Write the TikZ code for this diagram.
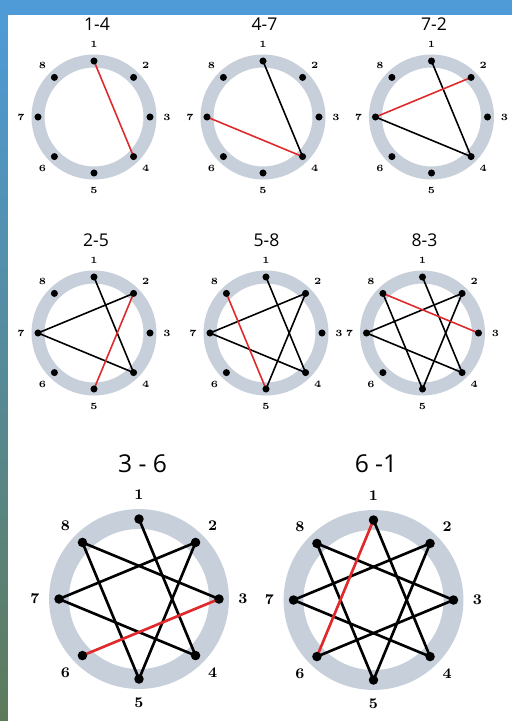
\documentclass[tikz,border=0pt]{standalone}
\usepackage{fontspec}
\newfontfamily\titlefont{Open Sans}
\usetikzlibrary{calc}
\definecolor{skyblue}{HTML}{4E9BD7}
\definecolor{palmteal}{HTML}{3E6470}
\definecolor{palmgreen}{HTML}{5E7A5A}
\definecolor{ringgrey}{HTML}{C6CFDA}
\definecolor{chordred}{HTML}{E0292B}
\tikzset{
    every picture/.style={line cap=round,line join=round},
    ring/.style={draw=ringgrey},
    peg/.style={circle,fill=black,inner sep=0pt},
    chord/.style={draw=black,line width=0.9pt},
    bigchord/.style={draw=black,line width=1.5pt},
    newchord/.style={draw=chordred},
    numlabel/.style={inner sep=0pt},
    steptitle/.style={font=\titlefont,inner sep=0pt}
}
\newcommand{\smalllabel}{\fontsize{5.4}{6}\selectfont\bfseries}
\newcommand{\biglabel}{\fontsize{8.4}{9}\selectfont\bfseries}
% ring, the eight peg positions and their numbers
\newcommand{\wheelring}[6]{%
    \draw[ring,line width=#5] (#2) circle[radius=#3];
    \foreach \k in {1,...,8}{
        \coordinate (#1-\k) at ($(#2)+({45*\k-135}:#3)$);
        \node[numlabel,font=#6] (#1-n\k) at ($(#2)+({45*\k-135}:#4)$) {\k};
    }
}
% pegs go on top of the chords
\newcommand{\wheelpegs}[2]{%
    \foreach \k in {1,...,8}
        \node[peg,minimum size=#2] (#1-d\k) at (#1-\k) {};
}

\begin{document}
\begin{tikzpicture}[x=0.02cm,y=-0.02cm]
    \fill[skyblue] (0,0) rectangle (512,721);
    \shade[top color=skyblue,middle color=palmteal,bottom color=palmgreen] (0,15) rectangle (8,721);
    \fill[white] (8,15) rectangle (512,721);
    \useasboundingbox (0,0) rectangle (512,721);

    % row 1
    \node[steptitle,font=\titlefont\fontsize{10}{12}\selectfont] (ta) at (97,24.5) {1-4};
    \wheelring{wa}{94,117}{56}{73}{7.4pt}{\smalllabel}
    \draw[chord,newchord] (wa-1) -- (wa-4);
    \wheelpegs{wa}{4pt}

    \node[steptitle,font=\titlefont\fontsize{10}{12}\selectfont] (tb) at (264.5,24.5) {4-7};
    \wheelring{wb}{263,117}{56}{73}{7.4pt}{\smalllabel}
    \draw[chord] (wb-1) -- (wb-4);
    \draw[chord,newchord] (wb-4) -- (wb-7);
    \wheelpegs{wb}{4pt}

    \node[steptitle,font=\titlefont\fontsize{10}{12}\selectfont] (tc) at (434,24.5) {7-2};
    \wheelring{wc}{431.5,117}{56}{73}{7.4pt}{\smalllabel}
    \foreach \a/\b in {1/4,4/7}
        \draw[chord] (wc-\a) -- (wc-\b);
    \draw[chord,newchord] (wc-7) -- (wc-2);
    \wheelpegs{wc}{4pt}

    % row 2
    \node[steptitle,font=\titlefont\fontsize{10}{12}\selectfont] (td) at (96,240) {2-5};
    \wheelring{wd}{94,333}{56}{73}{7.4pt}{\smalllabel}
    \foreach \a/\b in {1/4,4/7,7/2}
        \draw[chord] (wd-\a) -- (wd-\b);
    \draw[chord,newchord] (wd-2) -- (wd-5);
    \wheelpegs{wd}{4pt}

    \node[steptitle,font=\titlefont\fontsize{10}{12}\selectfont] (te) at (266.5,240) {5-8};
    \wheelring{we}{266,333}{56}{73}{7.4pt}{\smalllabel}
    \foreach \a/\b in {1/4,4/7,7/2,2/5}
        \draw[chord] (we-\a) -- (we-\b);
    \draw[chord,newchord] (we-5) -- (we-8);
    \wheelpegs{we}{4pt}

    \node[steptitle,font=\titlefont\fontsize{10}{12}\selectfont] (tf) at (424.5,240) {8-3};
    \wheelring{wf}{422.5,333}{56}{73}{7.4pt}{\smalllabel}
    \foreach \a/\b in {1/4,4/7,7/2,2/5,5/8}
        \draw[chord] (wf-\a) -- (wf-\b);
    \draw[chord,newchord] (wf-8) -- (wf-3);
    \wheelpegs{wf}{4pt}

    % row 3, larger
    \node[steptitle,font=\titlefont\fontsize{14}{16}\selectfont] (tg) at (142.5,464) {3 - 6};
    \wheelring{wg}{139,599}{80}{104}{11.3pt}{\biglabel}
    \foreach \a/\b in {1/4,4/7,7/2,2/5,5/8,8/3}
        \draw[bigchord] (wg-\a) -- (wg-\b);
    \draw[bigchord,newchord] (wg-3) -- (wg-6);
    \wheelpegs{wg}{5.4pt}

    \node[steptitle,font=\titlefont\fontsize{14}{16}\selectfont] (th) at (376,464) {6 -1};
    \wheelring{wh}{373.5,600}{80}{104}{11.3pt}{\biglabel}
    \foreach \a/\b in {1/4,4/7,7/2,2/5,5/8,8/3,3/6}
        \draw[bigchord] (wh-\a) -- (wh-\b);
    \draw[bigchord,newchord] (wh-6) -- (wh-1);
    \wheelpegs{wh}{5.4pt}
\end{tikzpicture}
\end{document}
